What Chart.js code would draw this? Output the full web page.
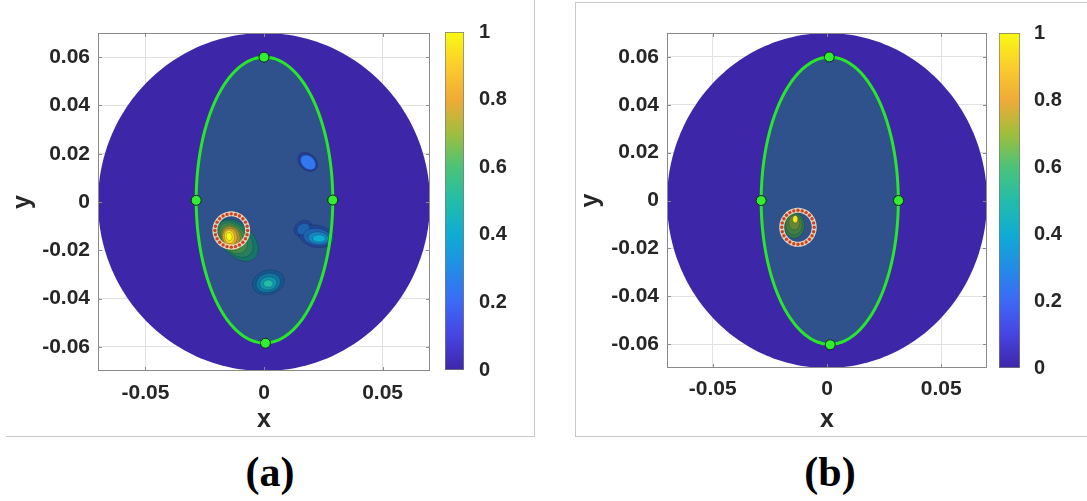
<!DOCTYPE html>
<html>
<head>
<meta charset="utf-8">
<script src="https://cdn.jsdelivr.net/npm/chart.js@4.4.0/dist/chart.umd.min.js"></script>
<style>
  body { margin: 0; background: #fff; width: 1087px; height: 501px; position: relative; overflow: hidden; }
  canvas { position: absolute; top: 0; }
  .frameA { position: absolute; left: 6px; top: -2px; width: 528px; height: 438px; border-right: 1px solid #c8c8c8; border-bottom: 1px solid #c8c8c8; }
  .frameB { position: absolute; left: 575px; top: 2px; width: 530px; height: 433px; border: 1px solid #c8c8c8; }
  .lab { position: absolute; top: 448px; width: 120px; text-align: center; font: bold 42px 'Liberation Serif', 'Times New Roman', serif; color: #000; }
</style>
</head>
<body>
<div class="frameA"></div>
<div class="frameB"></div>
<canvas id="mainA" width="440" height="437" style="left:0px"></canvas>
<canvas id="barA" width="95" height="437" style="left:440px"></canvas>
<canvas id="mainB" width="420" height="437" style="left:575px"></canvas>
<canvas id="barB" width="92" height="437" style="left:995px"></canvas>
<div class="lab" style="left:210px">(a)</div>
<div class="lab" style="left:770px">(b)</div>

<script>
// axis ticks
var xTicks = [-0.05, 0, 0.05];
var yTicks = [-0.06, -0.04, -0.02, 0, 0.02, 0.04, 0.06];
var cbTicks = [0, 0.2, 0.4, 0.6, 0.8, 1];
var axisMin = -0.07, axisMax = 0.07;

// parula-like colormap [value, r, g, b]
var cmapStops = [
  [0.0, 62, 38, 168], [0.1, 71, 68, 225], [0.2, 60, 105, 245], [0.3, 35, 140, 230],
  [0.4, 15, 172, 210], [0.5, 35, 188, 170], [0.6, 75, 195, 120], [0.7, 160, 190, 60],
  [0.8, 240, 170, 55], [0.9, 250, 205, 45], [1.0, 249, 250, 20]
];

// domain disk [cx, cy, r]
var domainDisk = [0, 0, 0.07];

// ellipse [cx, cy, semi x, semi y]
var ellipseA = [0.0002, 0.0008, 0.0288, 0.0592];
var ellipseB = [0.0012, -0.0001, 0.0300, 0.0600];

// green markers
var markAx = [0, 0.0290, 0.0006, -0.0286];
var markAy = [0.0600, 0.0008, -0.0585, 0.0007];
var markBx = [0.0010, 0.0313, 0.0014, -0.0288];
var markBy = [0.0600, 0.0000, -0.0603, 0.0000];

// true inclusion [cx, cy, r]
var inclA = [-0.0138, -0.0118, 0.0069];
var inclB = [-0.0127, -0.0112, 0.0071];
var inclDots = 24;

// contour levels [cx, cy, rx, ry, angle, value]
var blobsA = [
  [ [-0.0112, -0.0158, 0.0105, 0.0066, -45, 0.50],
    [-0.0122, -0.0153, 0.0090, 0.0058, -45, 0.56],
    [-0.0130, -0.0150, 0.0072, 0.0050, -50, 0.62],
    [-0.0136, -0.0148, 0.0056, 0.0043, -60, 0.68],
    [-0.0140, -0.0146, 0.0045, 0.0038, -70, 0.76],
    [-0.0144, -0.0145, 0.0036, 0.0030, -80, 0.86],
    [-0.0146, -0.0144, 0.0028, 0.0021, -80, 0.95],
    [-0.0147, -0.0143, 0.0017, 0.0012, -80, 1.00] ],
  [ [0.0184, 0.0166, 0.0046, 0.0034, -40, 0.18],
    [0.0186, 0.0164, 0.0036, 0.0026, -40, 0.24] ],
  [ [0.0165, -0.0110, 0.0040, 0.0032, 30, 0.22],
    [0.0222, -0.0142, 0.0075, 0.0046, -10, 0.22],
    [0.0166, -0.0112, 0.0028, 0.0022, 30, 0.28],
    [0.0225, -0.0145, 0.0060, 0.0035, -8, 0.28],
    [0.0229, -0.0149, 0.0043, 0.0025, -5, 0.34],
    [0.0232, -0.0151, 0.0027, 0.0015, 0, 0.40] ],
  [ [0.0018, -0.0333, 0.0068, 0.0050, 15, 0.30],
    [0.0018, -0.0335, 0.0052, 0.0039, 15, 0.36],
    [0.0018, -0.0337, 0.0036, 0.0027, 10, 0.42],
    [0.0018, -0.0338, 0.0020, 0.0015, 0, 0.50] ]
];
var blobsB = [
  [ [-0.0135, -0.0124, 0.0026, 0.0034, -30, 0.60],
    [-0.0143, -0.0104, 0.0044, 0.0054, 0, 0.60],
    [-0.0144, -0.0100, 0.0036, 0.0044, 0, 0.63],
    [-0.0143, -0.0093, 0.0024, 0.0030, 0, 0.68],
    [-0.0139, -0.0078, 0.0011, 0.0015, 0, 0.95] ]
];

Chart.defaults.font.family = "'Liberation Sans', Arial, sans-serif";
Chart.defaults.color = '#262626';

function cmap(v) {
  for (var i = 1; i < cmapStops.length; i++) {
    if (v <= cmapStops[i][0]) {
      var a = cmapStops[i - 1], b = cmapStops[i], t = (v - a[0]) / (b[0] - a[0]);
      return [0, 1, 2].map(function(k) { return a[k + 1] + (b[k + 1] - a[k + 1]) * t; });
    }
  }
  return cmapStops[cmapStops.length - 1].slice(1);
}
function rgb(c, s) {
  s = s || 1;
  return 'rgb(' + Math.round(c[0] * s) + ',' + Math.round(c[1] * s) + ',' + Math.round(c[2] * s) + ')';
}

// outline points of a (rotated) ellipse
function shapePts(c, n) {
  var pts = [], a = (c[4] || 0) * Math.PI / 180;
  for (var i = 0; i <= n; i++) {
    var t = 2 * Math.PI * i / n;
    var ex = c[2] * Math.cos(t), ey = c[3] * Math.sin(t);
    pts.push({x: c[0] + ex * Math.cos(a) - ey * Math.sin(a), y: c[1] + ex * Math.sin(a) + ey * Math.cos(a)});
  }
  return pts;
}

function fillPoly(chart, pts, color, stroke) {
  var ctx = chart.ctx, xs = chart.scales.x, ys = chart.scales.y;
  ctx.beginPath();
  pts.forEach(function(p, i) {
    var px = xs.getPixelForValue(p.x), py = ys.getPixelForValue(p.y);
    if (i) ctx.lineTo(px, py); else ctx.moveTo(px, py);
  });
  ctx.closePath();
  ctx.fillStyle = color;
  ctx.fill();
  if (stroke) { ctx.strokeStyle = stroke; ctx.lineWidth = 0.8; ctx.stroke(); }
}

function makePanel(id, p) {
  var ell = p.ellipse;
  var shapesPlugin = {
    id: 'shapes' + id,
    beforeDatasetsDraw: function(chart) {
      var ctx = chart.ctx, ca = chart.chartArea;
      ctx.save();
      ctx.beginPath(); ctx.rect(ca.left, ca.top, ca.width, ca.height); ctx.clip();
      fillPoly(chart, shapePts([domainDisk[0], domainDisk[1], domainDisk[2], domainDisk[2], 0], 240), rgb(cmap(0)));
      fillPoly(chart, shapePts([ell[0], ell[1], ell[2], ell[3], 0], 200), '#2f528c');
      p.blobs.forEach(function(blob) {
        var vs = blob.map(function(l) { return l[5]; });
        var vmin = Math.min.apply(null, vs), vmax = Math.max.apply(null, vs);
        blob.forEach(function(l) {
          var s = vmax > vmin ? 0.62 + 0.38 * (l[5] - vmin) / (vmax - vmin) : 0.62;
          fillPoly(chart, shapePts(l, 80), rgb(cmap(l[5]), s), 'rgba(15,25,45,0.3)');
        });
      });
      ctx.restore();
    },
    afterDraw: function(chart) {
      var ctx = chart.ctx, ca = chart.chartArea, xs = chart.scales.x, ys = chart.scales.y;
      ctx.save();
      ctx.strokeStyle = '#8a8a8a'; ctx.lineWidth = 1;
      ctx.strokeRect(ca.left + 0.5, ca.top + 0.5, ca.width - 1, ca.height - 1);
      ctx.beginPath();
      xTicks.forEach(function(v) {
        var px = Math.round(xs.getPixelForValue(v)) + 0.5;
        ctx.moveTo(px, ca.bottom); ctx.lineTo(px, ca.bottom - 4);
        ctx.moveTo(px, ca.top); ctx.lineTo(px, ca.top + 4);
      });
      yTicks.forEach(function(v) {
        var py = Math.round(ys.getPixelForValue(v)) + 0.5;
        ctx.moveTo(ca.left, py); ctx.lineTo(ca.left + 4, py);
        ctx.moveTo(ca.right, py); ctx.lineTo(ca.right - 4, py);
      });
      ctx.stroke();
      ctx.restore();
    }
  };

  var inc = p.incl;
  var ring = shapePts([inc[0], inc[1], inc[2], inc[2], 0], 100);
  var dots = shapePts([inc[0], inc[1], inc[2], inc[2], 0], inclDots).slice(0, inclDots);
  var markers = p.mx.map(function(x, i) { return {x: x, y: p.my[i]}; });
  var tickFont = {size: 21, weight: 'bold'};

  new Chart(document.getElementById(id), {
    type: 'scatter',
    data: {
      datasets: [
        { data: markers, pointRadius: 5, pointBackgroundColor: '#30ee30', pointBorderColor: '#0e2a0e', pointBorderWidth: 1, showLine: false },
        { data: dots, pointRadius: 1.7, pointBackgroundColor: '#cc4420', pointBorderWidth: 0, showLine: false },
        { data: ring, showLine: true, tension: 0.1, borderColor: 'rgba(236,218,196,0.95)', borderWidth: 5, pointRadius: 0, fill: false },
        { data: shapePts([ell[0], ell[1], ell[2], ell[3], 0], 200), showLine: true, tension: 0.1, borderColor: '#28e628', borderWidth: 3, pointRadius: 0, fill: false }
      ]
    },
    options: {
      responsive: false,
      animation: false,
      events: [],
      layout: { padding: { left: 0, top: p.top, right: p.right, bottom: 0 } },
      plugins: { legend: { display: false }, tooltip: { enabled: false } },
      scales: {
        x: {
          type: 'linear', min: axisMin, max: axisMax,
          afterBuildTicks: function(s) { s.ticks = xTicks.map(function(v) { return {value: v}; }); },
          afterFit: function(s) { s.height = p.xh; },
          ticks: { font: tickFont, padding: p.xpad, maxRotation: 0, callback: function(v) { return String(v); } },
          grid: { color: '#e2e2e2', drawTicks: false },
          border: { display: false },
          title: { display: true, text: 'x', font: {size: 25, weight: 'bold'}, padding: {top: 0, bottom: 2} }
        },
        y: {
          type: 'linear', min: axisMin, max: axisMax,
          afterBuildTicks: function(s) { s.ticks = yTicks.map(function(v) { return {value: v}; }); },
          afterFit: function(s) { s.width = p.yw; },
          ticks: { font: tickFont, padding: 8, callback: function(v) { return String(v); } },
          grid: { color: '#e2e2e2', drawTicks: false },
          border: { display: false },
          title: { display: true, text: 'y', font: {size: 25, weight: 'bold'}, padding: {top: p.ytp, bottom: 0} }
        }
      }
    },
    plugins: [shapesPlugin]
  });
}

function makeColorbar(id, p) {
  new Chart(document.getElementById(id), {
    type: 'bar',
    data: {
      labels: [''],
      datasets: [{
        data: [1],
        barPercentage: 1, categoryPercentage: 1,
        borderWidth: 1, borderColor: '#7a7a7a', borderSkipped: false,
        backgroundColor: function(c) {
          var ca = c.chart.chartArea;
          if (!ca) return '#3e26a8';
          var g = c.chart.ctx.createLinearGradient(0, ca.bottom, 0, ca.top);
          cmapStops.forEach(function(s) { g.addColorStop(s[0], rgb(s.slice(1))); });
          return g;
        }
      }]
    },
    options: {
      responsive: false,
      animation: false,
      events: [],
      layout: { padding: { left: p.left, top: p.top, right: 0, bottom: p.bottom } },
      plugins: { legend: { display: false }, tooltip: { enabled: false } },
      scales: {
        x: { display: false },
        y: {
          position: 'right', min: 0, max: 1,
          afterBuildTicks: function(s) { s.ticks = cbTicks.map(function(v) { return {value: v}; }); },
          afterFit: function(s) { s.width = p.w; },
          ticks: { font: {size: 20, weight: 'bold'}, padding: p.pad, callback: function(v) { return String(v); } },
          grid: { display: false },
          border: { display: false }
        }
      }
    }
  });
}

makePanel('mainA', { ellipse: ellipseA, mx: markAx, my: markAy, incl: inclA, blobs: blobsA, top: 33, right: 10, xh: 66, yw: 98, xpad: 10, ytp: 8 });
makePanel('mainB', { ellipse: ellipseB, mx: markBx, my: markBy, incl: inclB, blobs: blobsB, top: 33, right: 8, xh: 69, yw: 92, xpad: 9, ytp: 1 });
makeColorbar('barA', { left: 5, top: 32, bottom: 67, w: 71, pad: 7 });
makeColorbar('barB', { left: 4, top: 33, bottom: 69, w: 67, pad: 6 });
</script>
</body>
</html>
